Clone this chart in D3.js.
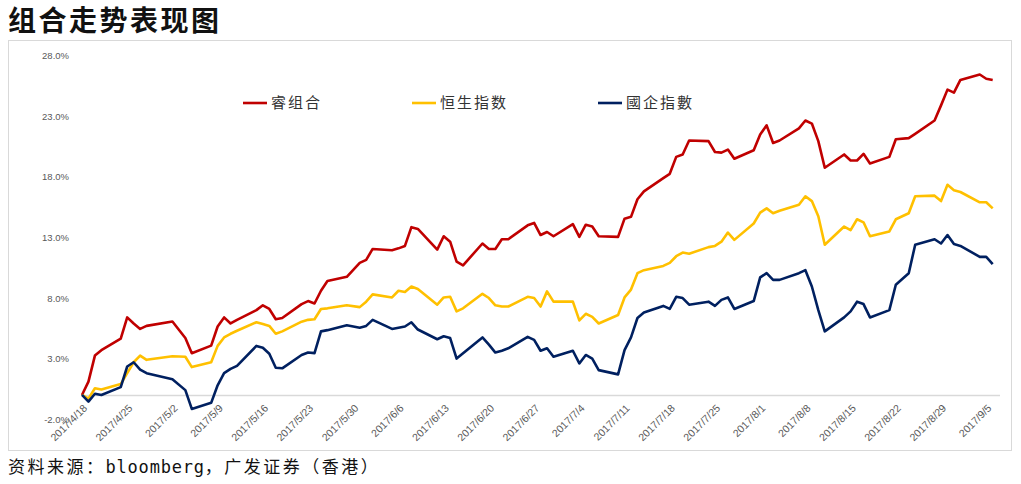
<!DOCTYPE html>
<html>
<head>
<meta charset="utf-8">
<script src="https://cdn.jsdelivr.net/npm/d3@7"></script>
<style>
  html, body { margin: 0; padding: 0; background: #fff; }
  svg { display: block; }
</style>
</head>
<body>
<svg id="chart" width="1021" height="484"></svg>
<script>
const title = "组合走势表现图";
const footnote = ["资料来源：", "bloomberg", "，广发证券（香港）"];
const seriesNames = ["睿组合", "恒生指数", "國企指數"];

const dates = [
  "2017-04-18","2017-04-19","2017-04-20","2017-04-21","2017-04-24","2017-04-25","2017-04-26","2017-04-27","2017-04-28",
  "2017-05-02","2017-05-04","2017-05-05","2017-05-08","2017-05-09","2017-05-10","2017-05-11","2017-05-12","2017-05-15","2017-05-16","2017-05-17","2017-05-18","2017-05-19","2017-05-22","2017-05-23","2017-05-24","2017-05-25","2017-05-26","2017-05-29","2017-05-31",
  "2017-06-01","2017-06-02","2017-06-05","2017-06-06","2017-06-07","2017-06-08","2017-06-09","2017-06-12","2017-06-13","2017-06-14","2017-06-15","2017-06-16","2017-06-19","2017-06-20","2017-06-21","2017-06-22","2017-06-23","2017-06-26","2017-06-27","2017-06-28","2017-06-29","2017-06-30",
  "2017-07-03","2017-07-04","2017-07-05","2017-07-06","2017-07-07","2017-07-10","2017-07-11","2017-07-12","2017-07-13","2017-07-14","2017-07-17","2017-07-18","2017-07-19","2017-07-20","2017-07-21","2017-07-24","2017-07-25","2017-07-26","2017-07-27","2017-07-28","2017-07-31",
  "2017-08-01","2017-08-02","2017-08-03","2017-08-04","2017-08-07","2017-08-08","2017-08-09","2017-08-10","2017-08-11","2017-08-14","2017-08-15","2017-08-16","2017-08-17","2017-08-18","2017-08-21","2017-08-22","2017-08-24","2017-08-25","2017-08-28","2017-08-29","2017-08-30","2017-08-31",
  "2017-09-01","2017-09-04","2017-09-05","2017-09-06"
];

// 睿组合 (%)
const ruiValues = [
  0, 1.1, 3.25, 3.7, 4.65, 6.4, 5.9, 5.45, 5.7,
  6.06, 4.7, 3.45, 4.07, 5.65, 6.4, 5.9, 6.2, 7.0, 7.4, 7.1, 6.25, 6.35, 7.5, 7.75, 7.55, 8.6, 9.4, 9.75, 10.9,
  11.15, 12.05, 11.95, 12.1, 12.3, 13.85, 13.7, 12.0, 13.1, 12.65, 11.0, 10.7, 12.5, 12.05, 12.05, 12.85, 12.85, 14.0, 14.2, 13.2, 13.45, 13.1,
  14.1, 13.05, 14.05, 13.9, 13.1, 13.05, 14.55, 14.7, 16.15, 16.8, 17.9, 18.25, 19.65, 19.85, 21.0, 20.95, 20.05, 20.0, 20.25, 19.5, 20.2,
  21.5, 22.25, 20.8, 21.0, 22.0, 22.65, 22.4, 20.95, 18.75, 19.85, 19.35, 19.35, 19.9, 19.1, 19.65, 21.1, 21.2, 21.55, 22.65, 23.9, 25.2, 24.95,
  26.0, 26.45, 26.1, 26.0
];

// 恒生指数 (%)
const hsiValues = [
  0, -0.3, 0.55, 0.45, 0.9, 1.8, 2.7, 3.25, 2.9,
  3.2, 3.15, 2.3, 2.7, 4.05, 4.75, 5.05, 5.3, 6.0, 5.85, 5.7, 5.05, 5.25, 6.05, 6.2, 6.25, 7.1, 7.15, 7.4, 7.25,
  7.7, 8.3, 8.05, 8.6, 8.5, 8.95, 8.75, 7.45, 8.05, 8.1, 6.9, 7.15, 8.35, 8.0, 7.4, 7.3, 7.3, 8.1, 8.0, 7.3, 8.55, 7.7,
  7.7, 6.15, 6.7, 6.45, 5.9, 6.6, 8.05, 8.7, 10.05, 10.3, 10.65, 10.9, 11.45, 11.75, 11.65, 12.2, 12.3, 12.65, 13.4, 12.8, 14.15,
  15.05, 15.4, 15.0, 15.2, 15.7, 16.4, 16.0, 14.75, 12.4, 13.9, 13.6, 14.5, 14.25, 13.1, 13.5, 14.5, 15.0, 16.4, 16.45, 16.0, 17.35, 16.9,
  16.75, 15.9, 15.9, 15.4
];

// 國企指數 (%)
const hsceiValues = [
  0, -0.55, 0.1, 0.0, 0.65, 2.35, 2.7, 2.1, 1.8,
  1.3, 0.4, -1.15, -0.65, 0.8, 1.8, 2.15, 2.4, 4.05, 3.9, 3.4, 2.25, 2.2, 3.3, 3.5, 3.45, 5.25, 5.35, 5.75, 5.55,
  5.7, 6.2, 5.45, 5.55, 5.65, 6.0, 5.4, 4.6, 4.85, 4.7, 3.0, 3.45, 4.75, 4.15, 3.5, 3.65, 3.85, 4.8, 4.55, 3.65, 3.85, 3.15,
  3.65, 2.6, 3.3, 3.0, 2.05, 1.7, 3.7, 4.75, 6.35, 6.8, 7.35, 7.1, 8.1, 8.0, 7.45, 7.7, 7.35, 7.85, 8.05, 7.1, 7.75,
  9.7, 10.05, 9.5, 9.5, 10.05, 10.3, 8.95, 7.0, 5.25, 6.4, 6.9, 7.7, 7.5, 6.4, 7.0, 9.1, 10.05, 12.4, 12.85, 12.5, 13.2, 12.45,
  12.3, 11.4, 11.4, 10.8
];

const xTickLabels = ["2017/4/18","2017/4/25","2017/5/2","2017/5/9","2017/5/16","2017/5/23","2017/5/30","2017/6/6","2017/6/13","2017/6/20","2017/6/27","2017/7/4","2017/7/11","2017/7/18","2017/7/25","2017/8/1","2017/8/8","2017/8/15","2017/8/22","2017/8/29","2017/9/5"];
const yTickValues = [-2, 3, 8, 13, 18, 23, 28];

const colors = ["#C00000", "#FFC000", "#002060"];

const svg = d3.select("#chart");
const parseDash = d3.timeParse("%Y-%m-%d");
const parseSlash = d3.timeParse("%Y/%m/%d");
const dateObjs = dates.map(parseDash);

const x = d3.scaleTime()
  .domain([parseDash("2017-04-18"), parseDash("2017-09-06")])
  .range([82, 992.7]);
const y = d3.scaleLinear().domain([-2, 28]).range([419.2, 55.7]);

// title
svg.append("text")
  .attr("x", 8).attr("y", 31)
  .attr("font-family", "Noto Sans CJK SC")
  .attr("font-weight", 700)
  .attr("font-size", 28)
  .attr("letter-spacing", 2.5)
  .attr("fill", "#111")
  .text(title);

// chart frame
svg.append("rect")
  .attr("x", 8.5).attr("y", 40.5).attr("width", 1003).attr("height", 410)
  .attr("fill", "#fff").attr("stroke", "#D9D9D9").attr("stroke-width", 1);

// zero axis line
svg.append("line")
  .attr("x1", 82).attr("x2", 1000)
  .attr("y1", Math.round(y(0)) + 0.5).attr("y2", Math.round(y(0)) + 0.5)
  .attr("stroke", "#D9D9D9").attr("stroke-width", 1.3);

// y axis
const yAxis = svg.append("g")
  .attr("transform", "translate(72,0)")
  .call(d3.axisLeft(y).tickValues(yTickValues).tickSize(0).tickPadding(3)
    .tickFormat(d => d.toFixed(1) + "%"));
yAxis.select(".domain").remove();
yAxis.selectAll("text")
  .attr("font-family", "Liberation Sans, Arial, sans-serif")
  .attr("font-size", 9.5)
  .attr("fill", "#595959");

// x axis
const xAxis = svg.append("g")
  .attr("transform", "translate(0,409)")
  .call(d3.axisBottom(x).tickValues(xTickLabels.map(parseSlash)).tickSize(0)
    .tickFormat((d, i) => xTickLabels[i]));
xAxis.select(".domain").remove();
xAxis.selectAll("text")
  .attr("font-family", "Liberation Sans, Arial, sans-serif")
  .attr("font-size", 10.5)
  .attr("fill", "#595959")
  .attr("text-anchor", "end")
  .attr("x", 4).attr("y", 0).attr("dy", "0.35em")
  .attr("transform", "rotate(-45)");

// lines
const allSeries = [ruiValues, hsiValues, hsceiValues];
const line = d3.line().x(d => x(d[0])).y(d => y(d[1]));
allSeries.forEach((vals, i) => {
  svg.append("path")
    .datum(dateObjs.map((d, j) => [d, vals[j]]))
    .attr("fill", "none")
    .attr("stroke", colors[i])
    .attr("stroke-width", 2.6)
    .attr("stroke-linejoin", "round")
    .attr("d", line);
});

// legend
const legendX = [243, 412, 598];
seriesNames.forEach((name, i) => {
  const g = svg.append("g").attr("transform", `translate(${legendX[i]},103)`);
  g.append("line").attr("x1", 0).attr("x2", 24).attr("y1", 0).attr("y2", 0)
    .attr("stroke", colors[i]).attr("stroke-width", 2.6);
  g.append("text").attr("x", 28).attr("y", 0).attr("dy", "0.36em")
    .attr("font-family", i === 2 ? "Noto Sans CJK TC" : "Noto Sans CJK SC")
    .attr("font-size", 15).attr("letter-spacing", 2)
    .attr("fill", "#333").text(name);
});

// footnote
const ft = svg.append("text").attr("x", 8).attr("y", 473)
  .attr("font-family", "Noto Sans CJK SC").attr("font-size", 17).attr("fill", "#111");
ft.append("tspan").attr("letter-spacing", 2.5).text(footnote[0]);
ft.append("tspan").attr("font-family", "DejaVu Sans Mono").attr("font-size", 17).attr("letter-spacing", 0.8).text(footnote[1]);
ft.append("tspan").attr("letter-spacing", 2.5).text(footnote[2]);
</script>
</body>
</html>
